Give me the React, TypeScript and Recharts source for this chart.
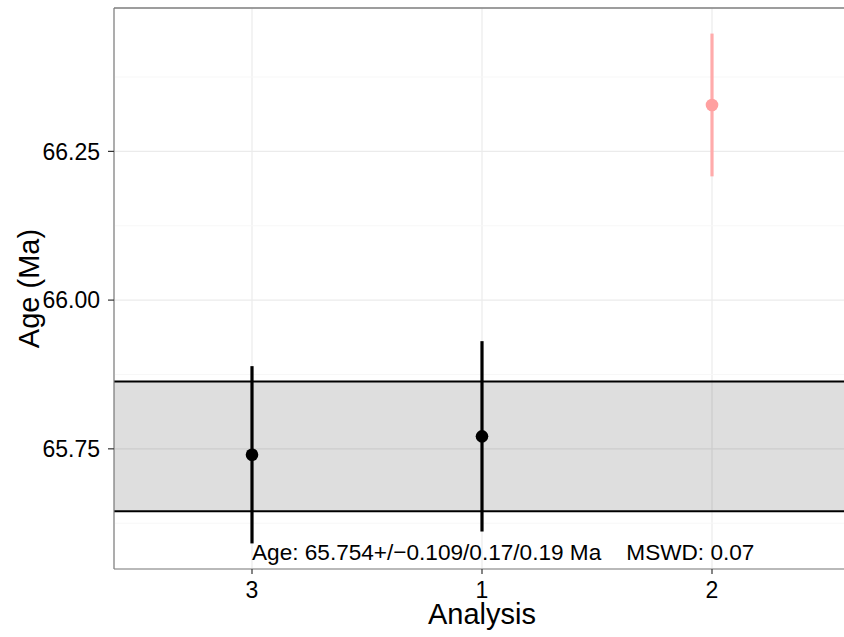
import React from 'react';
import {
    CartesianGrid,
    ComposedChart,
    ErrorBar,
    ReferenceArea,
    ReferenceDot,
    ReferenceLine,
    Scatter,
    XAxis,
    YAxis,
} from 'recharts';

// analyses in plotting order, their ages and 2-sigma errors (Ma)
const analyses = ['3', '1', '2'];
const ages = [65.740, 65.771, 66.328];
const errors = [0.149, 0.160, 0.120];
const rejected = [false, false, true];

// weighted mean result
const meanAge = 65.754;
const meanErr = 0.109;
const meanSysErr = 0.17;
const meanTotErr = 0.19;
const mswd = 0.07;

const yTicks = [65.75, 66.0, 66.25];
const yMinor = [65.625, 65.875, 66.125, 66.375];
const yDomain: [number, number] = [65.548, 66.491];

const rows = analyses.map((name, i) => ({
    pos: i + 1,
    name,
    age: ages[i],
    err: errors[i],
    rejected: rejected[i],
}));
const accepted = rows.filter(r => !r.rejected);
const outliers = rows.filter(r => r.rejected);

const FONT = '"Liberation Sans", Arial, Helvetica, sans-serif';

const dot = (fill: string) => (props: any) => (
    <circle cx={props.cx} cy={props.cy} r={6.3} fill={fill}/>
);

const YTitle = (props: any) => {
    const {viewBox} = props;
    const cx = viewBox.x + 29;
    const cy = viewBox.y + viewBox.height / 2;
    return (
        <text x={cx} y={cy} transform={`rotate(-90, ${cx}, ${cy})`} textAnchor="middle"
              dominantBaseline="central" fontSize={29} fill="#000" fontFamily={FONT}>
            Age (Ma)
        </text>
    );
};

const XTitle = (props: any) => {
    const {viewBox} = props;
    return (
        <text x={viewBox.x + viewBox.width / 2} y={614} textAnchor="middle"
              dominantBaseline="central" fontSize={29} fill="#000" fontFamily={FONT}>
            Analysis
        </text>
    );
};

const resultText = `Age: ${meanAge.toFixed(3)}+/\u2212${meanErr.toFixed(3)}/${meanSysErr}/${meanTotErr} Ma    MSWD: ${mswd.toFixed(2)}`;

const App: React.FC = () => {
    return (
        <div style={{position: 'absolute', left: 0, top: 0, width: 844, height: 637, overflow: 'hidden', background: '#fff'}}>
            <ComposedChart width={850} height={637} margin={{top: 8, right: 0, left: 0, bottom: 0}}>
                <CartesianGrid stroke="#ebebeb" strokeWidth={1.2}/>
                {yMinor.map(v => (
                    <ReferenceLine key={v} y={v} stroke="#f7f7f7" strokeWidth={1}/>
                ))}
                <XAxis
                    type="number"
                    dataKey="pos"
                    domain={[0.4, 3.6]}
                    ticks={[1, 2, 3]}
                    tickFormatter={(v: number) => analyses[v - 1]}
                    allowDataOverflow
                    height={68}
                    tickSize={5}
                    tickMargin={8}
                    tick={{fontSize: 23, fill: '#000', fontFamily: FONT}}
                    tickLine={{stroke: '#333', strokeWidth: 1.2}}
                    axisLine={{stroke: '#7f7f7f', strokeWidth: 1.2}}
                    label={<XTitle/>}
                />
                <YAxis
                    type="number"
                    dataKey="age"
                    domain={yDomain}
                    ticks={yTicks}
                    tickFormatter={(v: number) => v.toFixed(2)}
                    allowDataOverflow
                    width={114}
                    tickSize={6}
                    tickMargin={8}
                    tick={{fontSize: 23, fill: '#000', fontFamily: FONT}}
                    tickLine={{stroke: '#333', strokeWidth: 1.2}}
                    axisLine={{stroke: '#7f7f7f', strokeWidth: 1.2}}
                    label={<YTitle/>}
                />
                <ReferenceLine y={yDomain[1]} stroke="#7f7f7f" strokeWidth={1.6}/>
                <ReferenceArea y1={meanAge - meanErr} y2={meanAge + meanErr}
                               fill="#000" fillOpacity={0.13} stroke="none"/>
                <ReferenceLine y={meanAge - meanErr} stroke="#000" strokeWidth={2}/>
                <ReferenceLine y={meanAge + meanErr} stroke="#000" strokeWidth={2}/>
                <Scatter data={accepted} dataKey="age" shape={dot('#000')} isAnimationActive={false}>
                    <ErrorBar dataKey="err" direction="y" width={0} stroke="#000" strokeWidth={3.2}
                              isAnimationActive={false}/>
                </Scatter>
                <Scatter data={outliers} dataKey="age" shape={dot('#ffa0a0')} isAnimationActive={false}>
                    <ErrorBar dataKey="err" direction="y" width={0} stroke="#ffabab" strokeWidth={3.2}
                              isAnimationActive={false}/>
                </Scatter>
                <ReferenceDot
                    x={1}
                    y={65.575}
                    r={0}
                    shape={(p: any) => (
                        <text x={p.cx} y={p.cy} textAnchor="start" dominantBaseline="central"
                              fontSize={22.6} fill="#000" fontFamily={FONT} style={{whiteSpace: 'pre'}}>
                            {resultText}
                        </text>
                    )}
                />
            </ComposedChart>
        </div>
    );
};

export default App;
